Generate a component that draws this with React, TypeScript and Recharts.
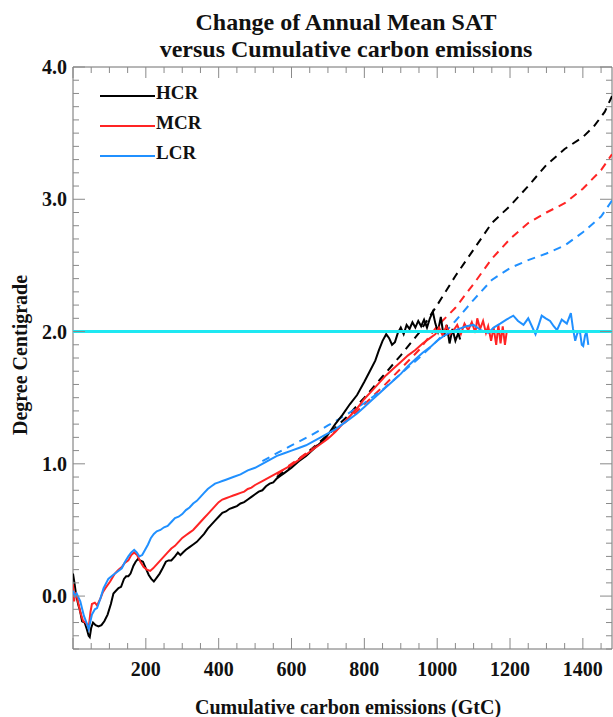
import { LineChart, Line, XAxis, YAxis, ReferenceLine, ReferenceArea } from "recharts";

const FONT = '"Liberation Serif", "Times New Roman", serif';
const W = 613;
const H = 717;
// plot frame in page pixels
const PLOT = { left: 73, top: 67, right: 612, bottom: 649 };

const xMajorTicks = [200, 400, 600, 800, 1000, 1200, 1400];
const yMajorTicks = [0, 1, 2, 3, 4];
const xDomain: [number, number] = [0, 1480];
const yDomain: [number, number] = [-0.4, 4.0];
const targetLine = 2.0;

const xTicks: number[] = [];
for (let v = 0; v < 1480; v += 50) xTicks.push(v);
const yTicks: number[] = [];
for (let i = 0; i <= 44; i++) yTicks.push(Math.round((-0.4 + i * 0.1) * 10) / 10);

// [cumulative emissions GtC, temperature change]
const hcrSolid: [number, number][] = [
  [0, 0.17], [4, 0.1], [8, 0.02], [14, -0.06], [20, -0.12], [25, -0.19], [32, -0.2], [38, -0.25],
  [43, -0.3], [46, -0.31], [50, -0.24], [55, -0.2], [62, -0.22], [70, -0.23], [78, -0.22], [86, -0.19],
  [95, -0.14], [104, -0.06], [111, 0.02], [118, 0.04], [125, 0.06], [132, 0.07], [140, 0.13], [146, 0.15],
  [152, 0.15], [158, 0.17], [166, 0.23], [172, 0.26], [178, 0.28], [184, 0.27], [192, 0.26], [200, 0.21],
  [208, 0.16], [215, 0.13], [222, 0.11], [230, 0.14], [238, 0.17], [246, 0.21], [255, 0.26], [262, 0.27],
  [270, 0.27], [280, 0.3], [288, 0.33], [295, 0.31], [302, 0.33], [310, 0.35], [320, 0.37], [330, 0.39],
  [340, 0.41], [350, 0.44], [360, 0.47], [370, 0.51], [380, 0.54], [390, 0.57], [400, 0.6], [410, 0.63],
  [420, 0.64], [430, 0.66], [440, 0.67], [450, 0.68], [460, 0.7], [470, 0.71], [480, 0.73], [490, 0.75],
  [500, 0.77], [510, 0.79], [520, 0.8], [530, 0.83], [540, 0.85], [550, 0.86], [560, 0.89], [570, 0.91],
  [580, 0.93], [590, 0.95], [600, 0.97], [620, 1.02], [640, 1.06], [660, 1.11], [680, 1.16], [700, 1.22],
  [720, 1.3], [740, 1.37], [760, 1.45], [780, 1.52], [800, 1.62], [815, 1.7], [830, 1.78], [840, 1.86],
  [850, 1.93], [860, 1.98], [868, 1.95], [876, 1.9], [884, 1.92], [892, 1.99], [900, 2.03], [908, 1.98],
  [916, 2.05], [924, 2.02], [932, 2.07], [940, 2.03], [948, 2.08], [956, 2.04], [964, 2.09], [972, 2.03],
  [980, 2.1], [988, 2.15], [995, 2.06], [1002, 2.0], [1010, 2.11], [1018, 1.96], [1026, 2.05], [1034, 1.91],
  [1042, 2.02], [1050, 1.93], [1058, 1.99], [1063, 1.94],
];

const mcrSolid: [number, number][] = [
  [0, 0.09], [3, -0.04], [7, 0.03], [12, -0.02], [20, -0.12], [28, -0.19], [35, -0.2], [43, -0.24],
  [48, -0.12], [52, -0.06], [60, -0.05], [66, -0.07], [75, -0.02], [82, 0.03], [89, 0.06], [102, 0.11],
  [115, 0.17], [125, 0.2], [134, 0.22], [142, 0.25], [152, 0.27], [160, 0.31], [168, 0.33], [176, 0.31],
  [185, 0.26], [194, 0.22], [203, 0.2], [212, 0.19], [220, 0.21], [230, 0.24], [240, 0.27], [250, 0.3],
  [260, 0.33], [270, 0.36], [280, 0.38], [290, 0.41], [300, 0.44], [310, 0.46], [320, 0.48], [330, 0.5],
  [340, 0.53], [350, 0.56], [360, 0.59], [370, 0.62], [380, 0.65], [390, 0.68], [400, 0.71], [410, 0.73],
  [420, 0.74], [430, 0.75], [440, 0.76], [450, 0.77], [460, 0.78], [470, 0.79], [480, 0.81], [490, 0.82],
  [500, 0.84], [520, 0.87], [540, 0.9], [560, 0.93], [580, 0.96], [600, 0.99], [620, 1.03], [640, 1.07],
  [660, 1.11], [680, 1.15], [700, 1.19], [720, 1.24], [740, 1.3], [760, 1.36], [780, 1.42], [800, 1.49],
  [820, 1.55], [840, 1.61], [860, 1.67], [880, 1.72], [900, 1.77], [920, 1.82], [940, 1.86], [960, 1.91],
  [980, 1.95], [995, 1.98], [1005, 2.03], [1015, 1.97], [1025, 2.04], [1035, 1.98], [1045, 2.01],
  [1055, 2.05], [1065, 1.98], [1075, 2.06], [1085, 2.01], [1095, 2.07], [1105, 1.99], [1110, 2.1],
  [1118, 2.02], [1126, 2.08], [1134, 1.99], [1140, 2.04], [1148, 1.93], [1155, 2.03], [1162, 1.9],
  [1168, 2.05], [1174, 1.91], [1180, 2.04], [1186, 1.9], [1191, 2.0],
];

const lcrSolid: [number, number][] = [
  [0, 0.04], [5, 0.0], [10, 0.02], [20, -0.04], [30, -0.15], [37, -0.2], [43, -0.25], [52, -0.14],
  [60, -0.1], [66, -0.09], [75, -0.02], [84, 0.06], [97, 0.13], [110, 0.16], [120, 0.18], [134, 0.21],
  [143, 0.26], [152, 0.3], [160, 0.33], [168, 0.35], [175, 0.33], [182, 0.3], [190, 0.31], [198, 0.35],
  [206, 0.39], [214, 0.44], [222, 0.47], [230, 0.49], [240, 0.5], [250, 0.52], [260, 0.53], [270, 0.56],
  [280, 0.59], [290, 0.6], [300, 0.62], [310, 0.65], [320, 0.67], [330, 0.7], [340, 0.72], [350, 0.75],
  [360, 0.78], [370, 0.81], [380, 0.83], [390, 0.85], [400, 0.86], [410, 0.87], [420, 0.88], [440, 0.9],
  [460, 0.92], [480, 0.95], [500, 0.97], [520, 1.0], [540, 1.03], [560, 1.06], [580, 1.08], [600, 1.1],
  [620, 1.12], [640, 1.14], [660, 1.17], [680, 1.2], [700, 1.23], [720, 1.26], [740, 1.3], [760, 1.34],
  [780, 1.38], [800, 1.43], [820, 1.48], [840, 1.53], [860, 1.58], [880, 1.63], [900, 1.68], [920, 1.74],
  [940, 1.79], [960, 1.84], [980, 1.88], [1000, 1.93], [1020, 1.97], [1040, 2.0], [1060, 2.02],
  [1080, 2.04], [1100, 2.05], [1120, 2.01], [1140, 1.99], [1155, 2.03], [1173, 2.06], [1190, 2.09],
  [1209, 2.12], [1222, 2.08], [1237, 2.05], [1250, 2.1], [1260, 2.04], [1270, 1.98], [1280, 2.06],
  [1287, 2.12], [1298, 2.1], [1310, 2.08], [1320, 2.04], [1329, 2.01], [1342, 2.09], [1356, 2.06],
  [1367, 2.14], [1373, 2.02], [1379, 1.93], [1385, 1.99], [1392, 2.0], [1397, 1.9], [1401, 1.89],
  [1406, 1.97], [1410, 2.0], [1415, 1.9],
];

const hcrDashed: [number, number][] = [
  [560, 0.9], [600, 0.99], [650, 1.1], [700, 1.22], [750, 1.35], [800, 1.5], [850, 1.66], [900, 1.82],
  [950, 1.99], [1000, 2.2], [1050, 2.42], [1100, 2.62], [1150, 2.82], [1200, 2.95], [1250, 3.1],
  [1300, 3.26], [1350, 3.38], [1400, 3.47], [1430, 3.55], [1460, 3.66], [1480, 3.78],
];

const mcrDashed: [number, number][] = [
  [560, 0.92], [600, 1.0], [650, 1.1], [700, 1.2], [750, 1.32], [800, 1.45], [850, 1.58], [900, 1.72],
  [950, 1.86], [1000, 2.04], [1050, 2.18], [1100, 2.36], [1150, 2.55], [1200, 2.7], [1250, 2.82],
  [1300, 2.9], [1350, 2.97], [1400, 3.08], [1450, 3.22], [1480, 3.34],
];

const lcrDashed: [number, number][] = [
  [520, 1.02], [560, 1.08], [600, 1.14], [650, 1.21], [700, 1.29], [750, 1.37], [800, 1.46], [850, 1.56],
  [900, 1.68], [950, 1.8], [1000, 1.93], [1050, 2.08], [1100, 2.24], [1150, 2.39], [1200, 2.48],
  [1250, 2.54], [1300, 2.59], [1350, 2.65], [1400, 2.75], [1450, 2.87], [1480, 2.99],
];

const titleLines = ["Change of Annual Mean SAT", "versus Cumulative carbon emissions"];

const legendItems = [
  { name: "HCR", color: "#000000" },
  { name: "MCR", color: "#ff2424" },
  { name: "LCR", color: "#2090ff" },
];

const toRows = (pts: [number, number][]) => pts.map(([x, y]) => ({ x, y }));

const TICK_COLOR = "#8a8a8a";

function XTick(props: any) {
  const { x, payload } = props;
  const v = payload.value as number;
  const major = v % 200 === 0;
  const len = major ? 11 : 6;
  return (
    <g>
      <line x1={x} y1={PLOT.bottom} x2={x} y2={PLOT.bottom - len} stroke={TICK_COLOR} />
      <line x1={x} y1={PLOT.top} x2={x} y2={PLOT.top + len} stroke={TICK_COLOR} />
      {xMajorTicks.includes(v) && (
        <text x={x} y={676} textAnchor="middle" fontFamily={FONT} fontWeight="bold" fontSize={20} fill="#111">
          {v}
        </text>
      )}
    </g>
  );
}

function YTick(props: any) {
  const { y, payload } = props;
  const v = payload.value as number;
  const major = yMajorTicks.includes(v);
  const len = major ? 12 : 6;
  return (
    <g>
      <line x1={PLOT.left} y1={y} x2={PLOT.left + len} y2={y} stroke={TICK_COLOR} />
      <line x1={PLOT.right} y1={y} x2={PLOT.right - len} y2={y} stroke={TICK_COLOR} />
      {major && (
        <text x={67} y={y + 7} textAnchor="end" fontFamily={FONT} fontWeight="bold" fontSize={20} fill="#111">
          {v.toFixed(1)}
        </text>
      )}
    </g>
  );
}

export default function App() {
  return (
    <div style={{ position: "absolute", left: 0, top: 0, width: W, height: H, background: "#fff" }}>
      <LineChart
        width={W}
        height={H}
        margin={{ top: PLOT.top, right: W - PLOT.right, bottom: 0, left: 0 }}
      >
        <XAxis
          type="number"
          dataKey="x"
          domain={xDomain}
          ticks={xTicks}
          interval={0}
          allowDataOverflow
          height={H - PLOT.bottom}
          axisLine={false}
          tickLine={false}
          tick={<XTick />}
        />
        <YAxis
          type="number"
          dataKey="y"
          domain={yDomain}
          ticks={yTicks}
          interval={0}
          allowDataOverflow
          width={PLOT.left}
          axisLine={false}
          tickLine={false}
          tick={<YTick />}
        />
        <ReferenceArea
          x1={xDomain[0]}
          x2={xDomain[1]}
          y1={yDomain[0]}
          y2={yDomain[1]}
          fill="none"
          stroke="#6e6e6e"
          strokeWidth={1}
        />
        <Line data={toRows(hcrDashed)} dataKey="y" type="linear" dot={false} stroke="#000" strokeWidth={2} strokeDasharray="8 6" isAnimationActive={false} />
        <Line data={toRows(mcrDashed)} dataKey="y" type="linear" dot={false} stroke="#ff2424" strokeWidth={2} strokeDasharray="8 6" isAnimationActive={false} />
        <Line data={toRows(lcrDashed)} dataKey="y" type="linear" dot={false} stroke="#2090ff" strokeWidth={2} strokeDasharray="8 6" isAnimationActive={false} />
        <Line data={toRows(hcrSolid)} dataKey="y" type="linear" dot={false} stroke="#000" strokeWidth={2} isAnimationActive={false} />
        <Line data={toRows(mcrSolid)} dataKey="y" type="linear" dot={false} stroke="#ff2424" strokeWidth={2} isAnimationActive={false} />
        <Line data={toRows(lcrSolid)} dataKey="y" type="linear" dot={false} stroke="#2090ff" strokeWidth={2} isAnimationActive={false} />
        <ReferenceLine y={targetLine} stroke="#1ee8f2" strokeWidth={3} />
      </LineChart>

      <svg width={W} height={H} style={{ position: "absolute", left: 0, top: 0, pointerEvents: "none" }}>
        <g fontFamily={FONT} fontWeight="bold" fill="#111">
          <text x={346} y={30} textAnchor="middle" fontSize={24}>{titleLines[0]}</text>
          <text x={346} y={57} textAnchor="middle" fontSize={24}>{titleLines[1]}</text>
          <text x={348} y={714} textAnchor="middle" fontSize={20}>Cumulative carbon emissions (GtC)</text>
          <text x={27} y={355} textAnchor="middle" fontSize={20} transform="rotate(-90 27 355)">Degree Centigrade</text>
        </g>
        {legendItems.map((item, i) => (
          <g key={item.name}>
            <line x1={100} x2={155} y1={96 + i * 30} y2={96 + i * 30} stroke={item.color} strokeWidth={2} />
            <text x={156} y={99 + i * 30} fontFamily={FONT} fontWeight="bold" fontSize={19} fill="#111">
              {item.name}
            </text>
          </g>
        ))}
      </svg>
    </div>
  );
}
